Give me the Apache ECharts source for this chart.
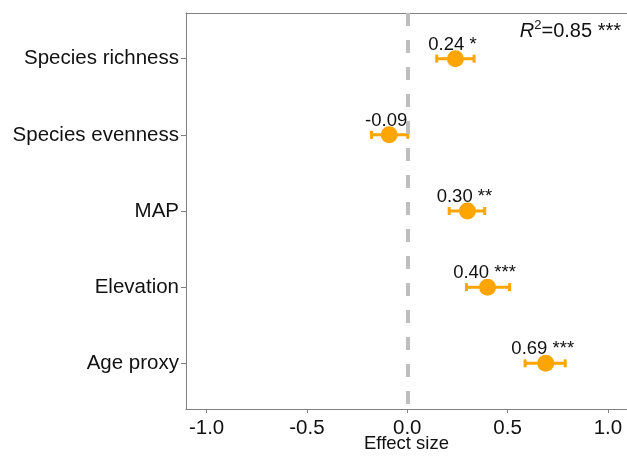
<!DOCTYPE html>
<html>
<head>
<meta charset="utf-8">
<script src="https://cdn.jsdelivr.net/npm/echarts@6/dist/echarts.min.js"></script>
<style>
  html, body { margin: 0; padding: 0; background: #fff; }
  #chart { width: 627px; height: 456px; }
</style>
</head>
<body>
<div id="chart"></div>
<script>
// Predictors, top to bottom
const predictors = ['Species richness', 'Species evenness', 'MAP', 'Elevation', 'Age proxy'];
// Standardised effect sizes and their confidence limits
const effects = [0.24, -0.09, 0.30, 0.40, 0.69];
const lowerCI = [0.147, -0.178, 0.209, 0.295, 0.587];
const upperCI = [0.333, 0.003, 0.386, 0.510, 0.787];
// Significance stars for each predictor
const stars = ['*', '', '**', '***', '***'];
// Tick labels along the effect-size axis
const xTicks = [-1.0, -0.5, 0.0, 0.5, 1.0];
const modelR2 = '0.85';
const modelStars = '***';

const FONT = '"Liberation Sans", Arial, sans-serif';
const ORANGE = '#FFA500';
const AXIS_GREY = '#7F7F7F';
const X_MIN = -1.1025;
const X_MAX = 1.095;

// Rows sit at y = 1..5 (top to bottom)
const rowPos = predictors.map((_, i) => i + 1);
const pointData = effects.map((v, i) => [v, rowPos[i]]);
const barData = effects.map((v, i) => [lowerCI[i], upperCI[i], rowPos[i]]);

const chart = echarts.init(document.getElementById('chart'), null, { renderer: 'canvas' });

chart.setOption({
  animation: false,
  backgroundColor: '#fff',
  grid: { left: 186, top: 13, right: 0, bottom: 47, containLabel: false, outerBoundsMode: 'none' },
  xAxis: [
    {
      type: 'value',
      min: X_MIN,
      max: X_MAX,
      splitLine: { show: false },
      axisLine: { show: true, onZero: false, lineStyle: { color: AXIS_GREY, width: 1 } },
      axisTick: { show: true, length: 4, customValues: xTicks, lineStyle: { color: AXIS_GREY } },
      axisLabel: {
        customValues: xTicks,
        formatter: v => v.toFixed(1),
        color: '#111', fontFamily: FONT, fontSize: 20.5, margin: 9
      },
      name: 'Effect size',
      nameLocation: 'middle',
      nameGap: 25,
      nameMoveOverlap: false,
      nameTextStyle: { color: '#111', fontFamily: FONT, fontSize: 18.5 }
    },
    {
      // Upper panel border
      type: 'value',
      position: 'top',
      min: X_MIN,
      max: X_MAX,
      splitLine: { show: false },
      axisLine: { show: true, onZero: false, lineStyle: { color: AXIS_GREY, width: 1 } },
      axisTick: { show: false },
      axisLabel: { show: false }
    }
  ],
  yAxis: {
    type: 'value',
    inverse: true,
    min: 0.4,
    max: 5.6,
    splitLine: { show: false },
    axisLine: { show: true, onZero: false, lineStyle: { color: AXIS_GREY, width: 1 } },
    axisTick: { show: true, length: 5, customValues: rowPos, lineStyle: { color: AXIS_GREY } },
    axisLabel: {
      customValues: rowPos,
      formatter: v => predictors[Math.round(v) - 1] || '',
      color: '#111', fontFamily: FONT, fontSize: 20.5, margin: 7
    }
  },
  series: [
    {
      // Dashed reference line at zero effect
      type: 'line',
      data: [],
      markLine: {
        silent: true,
        symbol: 'none',
        label: { show: false },
        lineStyle: { color: '#BEBEBE', width: 4, type: [13, 14] },
        data: [{ xAxis: 0 }]
      }
    },
    {
      // Confidence intervals with end caps
      type: 'custom',
      data: barData,
      encode: { x: [0, 1], y: 2 },
      renderItem: function (params, api) {
        const y = api.value(2);
        const a = api.coord([api.value(0), y]);
        const b = api.coord([api.value(1), y]);
        const cap = 4;
        const style = { stroke: ORANGE, lineWidth: 3, fill: null };
        return {
          type: 'group',
          children: [
            { type: 'line', shape: { x1: a[0], y1: a[1], x2: b[0], y2: b[1] }, style },
            { type: 'line', shape: { x1: a[0], y1: a[1] - cap, x2: a[0], y2: a[1] + cap }, style },
            { type: 'line', shape: { x1: b[0], y1: b[1] - cap, x2: b[0], y2: b[1] + cap }, style }
          ]
        };
      },
      z: 3
    },
    {
      // Point estimates with value and significance labels
      type: 'scatter',
      data: pointData,
      symbol: 'circle',
      symbolSize: 17,
      itemStyle: { color: ORANGE, opacity: 1 },
      label: {
        show: true,
        position: 'inside',
        offset: [-3, -14],
        color: '#111',
        fontFamily: FONT,
        fontSize: 18.5,
        formatter: p => {
          const i = p.dataIndex;
          const v = effects[i].toFixed(2);
          return stars[i] ? v + ' ' + stars[i] : v;
        }
      },
      z: 4
    }
  ],
  graphic: [
    {
      type: 'text',
      right: 6,
      top: 19,
      style: {
        text: '{r|R}{sup|2}{t|=' + modelR2 + ' ' + modelStars + '}',
        rich: {
          r: { fontFamily: FONT, fontSize: 20, fontStyle: 'italic', fill: '#111', color: '#111' },
          sup: { fontFamily: FONT, fontSize: 13, fill: '#111', color: '#111', verticalAlign: 'top', padding: [0, 0, 11, 0] },
          t: { fontFamily: FONT, fontSize: 20, fill: '#111', color: '#111' }
        }
      }
    }
  ]
});
</script>
</body>
</html>
